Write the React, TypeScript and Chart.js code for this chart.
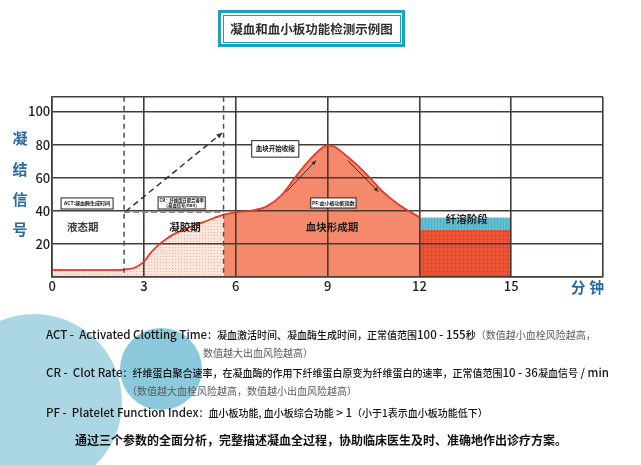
import React, { useEffect, useRef } from "react";
import { Chart, registerables } from "chart.js";

Chart.register(...registerables);

// ---- data ----
const timeMin = [0, 1, 2, 2.4, 2.7, 3, 3.2, 3.4, 3.7, 4, 4.5, 5, 5.6, 6, 6.5, 7, 7.5, 8, 8.4, 8.75, 9, 9.25, 9.5, 10, 10.4, 10.8, 11.3, 12];
const clotSignal = [4, 4, 4, 4.4, 5.5, 9, 14, 18, 22.5, 26, 30, 33.5, 37.5, 39, 40, 42.5, 49.5, 61.6, 70.5, 77, 79.6, 78.5, 75, 67, 59.5, 51.5, 44, 36];
const xTicks = [0, 3, 6, 9, 12, 15, 18];
const yTicks = [0, 20, 40, 60, 80, 100];
const yMax = 109;
const actTime = 2.35; // end of liquid phase
const crEnd = 5.6; // end of gel phase
const lysisWindow = [12, 15];
const lysisRedTop = 28.3;
const lysisBlueTop = 35.8;
const crSlope = [
  [2.4, 39.5],
  [5.55, 87],
];
const phaseNames = ["液态期", "凝胶期", "血块形成期", "纤溶阶段"];
const phaseAnchorX = [1.0, 4.34, 9.14, 13.55];
const phaseAnchorY = [30.3, 30.3, 30.3, 35];

const FONT = "'Noto Sans CJK SC', 'Noto Sans', sans-serif";
const GRID = "#463c37";

function makePattern(w: number, h: number, base: string, draw: (p: CanvasRenderingContext2D) => void) {
  const c = document.createElement("canvas");
  c.width = w;
  c.height = h;
  const p = c.getContext("2d")!;
  p.fillStyle = base;
  p.fillRect(0, 0, w, h);
  draw(p);
  return p.createPattern(c, "repeat")!;
}

function arrow(ctx: CanvasRenderingContext2D, x1: number, y1: number, x2: number, y2: number, head: number) {
  ctx.beginPath();
  ctx.moveTo(x1, y1);
  ctx.lineTo(x2, y2);
  ctx.stroke();
  const a = Math.atan2(y2 - y1, x2 - x1);
  ctx.setLineDash([]);
  ctx.beginPath();
  ctx.moveTo(x2, y2);
  ctx.lineTo(x2 - head * Math.cos(a - 0.45), y2 - head * Math.sin(a - 0.45));
  ctx.lineTo(x2 - head * Math.cos(a + 0.45), y2 - head * Math.sin(a + 0.45));
  ctx.closePath();
  ctx.fillStyle = ctx.strokeStyle as string;
  ctx.fill();
}

const annotationPlugin = {
  id: "clotAnnotations",
  afterDraw(chart: any) {
    const { ctx, chartArea, scales } = chart;
    const X = (v: number) => scales.x.getPixelForValue(v);
    const Y = (v: number) => scales.y.getPixelForValue(v);
    ctx.save();
    // red curve redrawn over grid
    ctx.strokeStyle = "#e5402e";
    ctx.lineWidth = 1.5;
    const meta = chart.getDatasetMeta(2);
    if (meta && meta.dataset) {
      ctx.beginPath();
      meta.dataset.path(ctx);
      ctx.stroke();
    }
    // dashed verticals
    ctx.strokeStyle = "#4d4d4d";
    ctx.lineWidth = 1.5;
    ctx.setLineDash([5, 4]);
    [actTime, crEnd].forEach((v) => {
      ctx.beginPath();
      ctx.moveTo(X(v), chartArea.top);
      ctx.lineTo(X(v), chartArea.bottom);
      ctx.stroke();
    });
    // dashed horizontal baseline for CR
    ctx.strokeStyle = "#8a8a8a";
    ctx.setLineDash([6, 3]);
    ctx.beginPath();
    ctx.moveTo(X(actTime), Y(39));
    ctx.lineTo(X(crEnd), Y(39));
    ctx.stroke();
    // dashed CR slope arrow
    ctx.strokeStyle = "#333";
    ctx.lineWidth = 1.5;
    ctx.setLineDash([6, 4]);
    arrow(ctx, X(crSlope[0][0]), Y(crSlope[0][1]), X(crSlope[1][0]), Y(crSlope[1][1]), 6);
    // solid arrows on the peak
    ctx.setLineDash([]);
    ctx.lineWidth = 1;
    ctx.strokeStyle = "#333";
    arrow(ctx, X(7.66), Y(51.5), X(8.62), Y(70.3), 5);
    arrow(ctx, X(9.66), Y(70.3), X(10.66), Y(51.5), 5);

    // boxes
    const box = (x0: number, x1: number, y0: number, y1: number, lines: string[], size: number) => {
      const l = X(x0), r = X(x1), t = Y(y0), b = Y(y1);
      ctx.fillStyle = "#fff";
      ctx.fillRect(l, t, r - l, b - t);
      ctx.strokeStyle = "#222";
      ctx.lineWidth = 1;
      ctx.strokeRect(l, t, r - l, b - t);
      ctx.fillStyle = "#111";
      ctx.font = `bold ${size}px ${FONT}`;
      ctx.textAlign = "center";
      ctx.textBaseline = "middle";
      const cy = (t + b) / 2;
      lines.forEach((s, i) => {
        ctx.fillText(s, (l + r) / 2, cy + (i - (lines.length - 1) / 2) * (size + 1));
      });
    };
    box(0.29, 1.99, 47.7, 41, ["ACT:凝血酶生成时间"], 5);
    box(3.46, 5.0, 48.3, 41, ["CR：纤维蛋白聚合速率", "（凝血信号/min）"], 4.3);
    box(6.52, 8.06, 82.4, 72.4, ["血块开始收缩"], 6.5);
    box(8.45, 9.93, 47.7, 41.6, ["PF:血小板功能指数"], 5);

    // phase labels
    ctx.textAlign = "center";
    ctx.textBaseline = "middle";
    phaseNames.forEach((n, i) => {
      ctx.fillStyle = i === 0 ? "#3a3a3a" : "#1e1e1e";
      ctx.font = `bold 10.5px ${FONT}`;
      ctx.fillText(n, X(phaseAnchorX[i]), Y(phaseAnchorY[i]));
    });
    ctx.restore();
  },
};

export default function App() {
  const ref = useRef<HTMLCanvasElement>(null);
  useEffect(() => {
    document.body.style.margin = "0";
    const canvas = ref.current!;
    const dots = makePattern(3, 3, "#fbe6dc", (p) => {
      p.fillStyle = "#efb39c";
      p.fillRect(1, 1, 1, 1);
    });
    const redMesh = makePattern(4, 4, "#ef5537", (p) => {
      p.fillStyle = "#e2492f";
      p.fillRect(3, 0, 1, 4);
      p.fillRect(0, 3, 4, 1);
    });
    const blueMesh = makePattern(3, 3, "#5dc0d3", (p) => {
      p.fillStyle = "#4fb2c6";
      p.fillRect(2, 0, 1, 3);
    });
    const salmon = "#f4896b";
    const curve = timeMin.map((x, i) => ({ x, y: clotSignal[i] }));
    const chart = new Chart(canvas, {
      type: "line",
      data: {
        datasets: [
          {
            data: [
              { x: lysisWindow[0], y: lysisRedTop },
              { x: lysisWindow[1], y: lysisRedTop },
            ],
            fill: "origin",
            backgroundColor: redMesh,
            borderWidth: 0,
            pointRadius: 0,
          },
          {
            data: [
              { x: lysisWindow[0], y: lysisBlueTop },
              { x: lysisWindow[1], y: lysisBlueTop },
            ],
            fill: "-1",
            backgroundColor: blueMesh,
            borderColor: "#f5caa4",
            borderWidth: 1,
            pointRadius: 0,
          },
          {
            data: curve,
            fill: "origin",
            backgroundColor: salmon,
            borderColor: "#e5402e",
            borderWidth: 1.5,
            pointRadius: 0,
            cubicInterpolationMode: "monotone",
            segment: {
              backgroundColor: (c: any) => (c.p0.parsed.x >= crEnd - 1e-6 ? salmon : dots),
            },
          } as any,
        ],
      },
      options: {
        animation: false,
        responsive: false,
        events: [],
        layout: { padding: { top: 96.7, right: 38, bottom: 465 - 276.7 - 20, left: 0 } },
        plugins: { legend: { display: false }, tooltip: { enabled: false } },
        scales: {
          x: {
            type: "linear",
            min: 0,
            max: 18,
            afterBuildTicks: (a: any) => {
              a.ticks = xTicks.map((v) => ({ value: v }));
            },
            afterFit: (s: any) => {
              s.height = 20;
            },
            grid: { color: GRID, lineWidth: 1.6, drawTicks: false, z: 1 },
            border: { color: GRID, width: 1.6, z: 1 },
            ticks: {
              autoSkip: false,
              maxRotation: 0,
              padding: 2,
              color: "#1e1e1e",
              font: { family: FONT, size: 13, weight: "500" },
              callback: (v: any) => (v === 18 ? "" : String(v)),
            },
          },
          y: {
            type: "linear",
            min: 0,
            max: yMax,
            afterBuildTicks: (a: any) => {
              a.ticks = [...yTicks, yMax].map((v) => ({ value: v }));
            },
            afterFit: (s: any) => {
              s.width = 52.2;
            },
            grid: { color: GRID, lineWidth: 1.6, drawTicks: false, z: 1 },
            border: { color: GRID, width: 1.6, z: 1 },
            ticks: {
              autoSkip: false,
              padding: 2,
              color: "#1e1e1e",
              font: { family: FONT, size: 13, weight: "500" },
              callback: (v: any) => (v === 0 || v === yMax ? "" : String(v)),
            },
          },
        },
      } as any,
      plugins: [annotationPlugin],
    });
    return () => chart.destroy();
  }, []);

  const grey = "#5a5a5a";
  const latin: React.CSSProperties = { fontSize: 11.5 };
  const line = (top: number, left: number, extra?: React.CSSProperties): React.CSSProperties => ({
    position: "absolute",
    top: top - 8,
    left,
    height: 16,
    lineHeight: "16px",
    whiteSpace: "nowrap",
    fontSize: 10,
    fontWeight: 500,
    color: "#151515",
    zIndex: 2,
    ...extra,
  });

  return (
    <div
      style={{
        position: "absolute",
        left: 0,
        top: 0,
        width: 641,
        height: 465,
        overflow: "hidden",
        background: "#fff",
        fontFamily: FONT,
      }}
    >
      <div style={{ position: "absolute", left: -54, top: 314, width: 176, height: 176, borderRadius: "50%", background: "#abd7e4", zIndex: 0 }} />
      <div style={{ position: "absolute", left: 119.5, top: 328, width: 82, height: 82, borderRadius: "50%", background: "#8dc9dc", zIndex: 0 }} />
      <canvas ref={ref} width={641} height={465} style={{ position: "absolute", left: 0, top: 0, width: 641, height: 465, zIndex: 1 }} />

      {/* title */}
      <div
        style={{
          position: "absolute",
          left: 218,
          top: 10,
          width: 187,
          height: 37,
          boxSizing: "border-box",
          border: "3px solid #1ba2bd",
          padding: 1.5,
          zIndex: 2,
        }}
      >
        <div
          style={{
            width: "100%",
            height: "100%",
            boxSizing: "border-box",
            border: "1px solid #1ba2bd",
            display: "flex",
            alignItems: "center",
            justifyContent: "center",
            fontWeight: 700,
            fontSize: 12.5,
            color: "#2e2e2e",
          }}
        >
          凝血和血小板功能检测示例图
        </div>
      </div>

      {/* y axis title */}
      {["凝", "结", "信", "号"].map((c, i) => (
        <div
          key={c}
          style={{
            position: "absolute",
            left: 12,
            top: [138, 169, 199, 229][i] - 9,
            width: 16,
            height: 18,
            lineHeight: "18px",
            textAlign: "center",
            fontWeight: 700,
            fontSize: 15,
            color: "#2b6b9c",
            zIndex: 2,
          }}
        >
          {c}
        </div>
      ))}
      <div
        style={{
          position: "absolute",
          left: 571,
          top: 278,
          height: 18,
          lineHeight: "18px",
          fontWeight: 700,
          fontSize: 14.5,
          letterSpacing: 4,
          color: "#2b6b9c",
          zIndex: 2,
        }}
      >
        分钟
      </div>

      {/* description */}
      <div style={line(334, 46)}>
        <span style={latin}>ACT -&nbsp; Activated Clotting Time</span>：凝血激活时间、凝血酶生成时间，正常值范围<span style={latin}>100 - 155</span>秒
        <span style={{ color: grey, fontWeight: 400 }}>（数值越小血栓风险越高，</span>
      </div>
      <div style={line(353, 203, { color: grey, fontWeight: 400 })}>数值越大出血风险越高）</div>
      <div style={line(372, 46)}>
        <span style={latin}>CR -&nbsp; Clot Rate</span>：纤维蛋白聚合速率，在凝血酶的作用下纤维蛋白原变为纤维蛋白的速率，正常值范围<span style={latin}>10 - 36</span>凝血信号<span style={latin}> / min</span>
      </div>
      <div style={line(391, 127, { color: grey, fontWeight: 400 })}>（数值越大血栓风险越高，数值越小出血风险越高）</div>
      <div style={line(412, 46)}>
        <span style={latin}>PF -&nbsp; Platelet Function Index</span>：血小板功能, 血小板综合功能<span style={latin}> &gt; 1</span>（小于1表示血小板功能低下）
      </div>
      <div style={line(440, 75, { fontSize: 12, fontWeight: 700, color: "#111" })}>
        通过三个参数的全面分析，完整描述凝血全过程，协助临床医生及时、准确地作出诊疗方案。
      </div>
    </div>
  );
}
